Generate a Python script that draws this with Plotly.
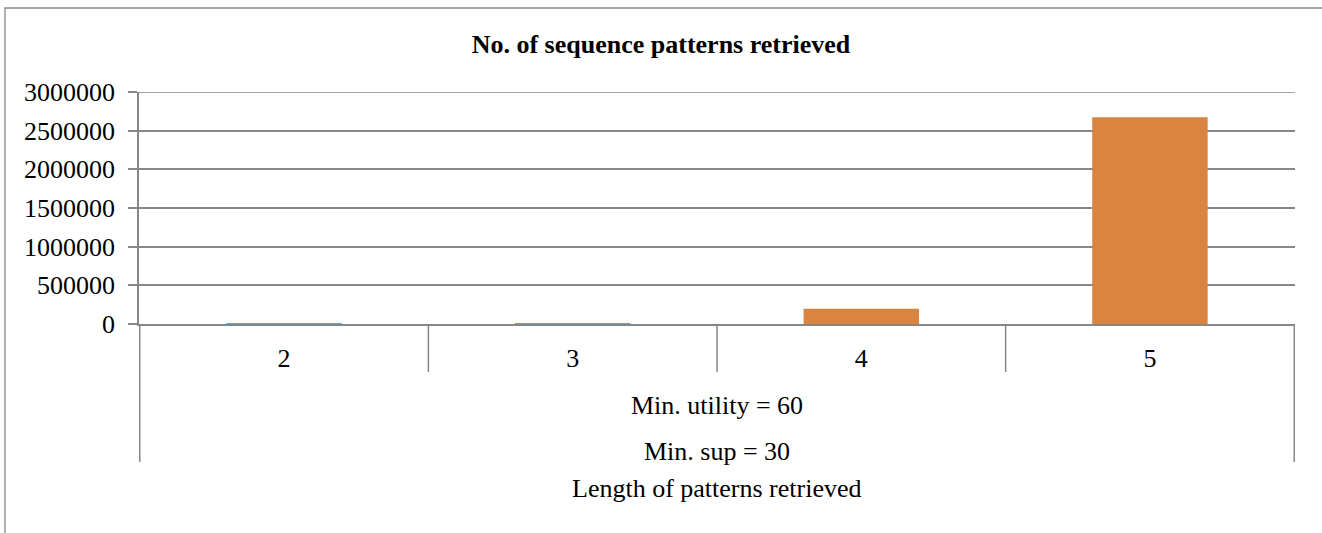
import plotly.graph_objects as go

categories = ["2", "3", "4", "5"]
patterns = [100, 600, 198000, 2673000]
group_level1 = "Min. utility = 60"
group_level2 = "Min. sup = 30"
x_title = "Length of patterns retrieved"
chart_title = "No. of sequence patterns retrieved"
y_ticks = [0, 500000, 1000000, 1500000, 2000000, 2500000, 3000000]

FONT = "Liberation Serif, Times New Roman, serif"
GRAY = "#878787"
FS = 26
W, H = 1322, 533
L, R, T, B = 139, 27, 92, 209
PH = H - T - B
PW = W - L - R

fig = go.Figure(go.Bar(
    x=categories, y=patterns,
    marker=dict(color="#DB8440", line=dict(width=0)),
    hoverinfo="x+y",
))

shapes = []
# category dividers (first level)
for i in range(len(categories) + 1):
    xb = i - 0.5
    depth = 48 if 0 < i < len(categories) else 138
    shapes.append(dict(type="line", xref="x", yref="paper",
                       x0=xb, x1=xb, y0=0, y1=-depth / PH,
                       line=dict(color=GRAY, width=1.5)))
# top gridline (plotly hides a gridline sitting on the plot edge)
shapes.append(dict(type="line", xref="paper", yref="y",
                   x0=0, x1=1, y0=y_ticks[-1], y1=y_ticks[-1],
                   line=dict(color=GRAY, width=1.5), layer="below"))
# outer chart border (left and top, extends past the window)
shapes.append(dict(type="rect", xref="paper", yref="paper",
                   x0=(5 - L) / PW, x1=(W + 20 - L) / PW,
                   y0=(H - B - 8) / PH, y1=(H - B - (H + 20)) / PH,
                   line=dict(color=GRAY, width=1.3), fillcolor="rgba(0,0,0,0)",
                   layer="below"))

annotations = [
    dict(text=group_level1, xref="paper", yref="paper", x=0.5, y=0,
         yshift=-81, yanchor="middle", showarrow=False,
         font=dict(family=FONT, size=FS, color="black")),
    dict(text=group_level2, xref="paper", yref="paper", x=0.5, y=0,
         yshift=-127, yanchor="middle", showarrow=False,
         font=dict(family=FONT, size=FS, color="black")),
    dict(text=x_title, xref="paper", yref="paper", x=0.5, y=0,
         yshift=-164, yanchor="middle", showarrow=False,
         font=dict(family=FONT, size=FS, color="black")),
]

fig.update_layout(
    width=W, height=H,
    margin=dict(l=L, r=R, t=T, b=B, autoexpand=False),
    paper_bgcolor="white", plot_bgcolor="white",
    bargap=0.6,
    showlegend=False,
    title=dict(text="<b>" + chart_title + "</b>", x=0.5, xref="container",
               y=1 - 44 / H, yref="container", yanchor="middle",
               font=dict(family=FONT, size=FS, color="black")),
    font=dict(family=FONT, size=FS, color="black"),
    shapes=shapes,
    annotations=annotations,
    xaxis=dict(type="category", categoryorder="array", categoryarray=categories,
               showgrid=False, ticks="", showline=True, linecolor=GRAY,
               linewidth=1.5, tickfont=dict(family=FONT, size=FS, color="black"),
               ticklabelstandoff=10, automargin=False, fixedrange=True),
    yaxis=dict(range=[0, 3000000], tickvals=y_ticks,
               ticktext=[str(v) for v in y_ticks],
               showgrid=True, gridcolor=GRAY, gridwidth=1.5,
               showline=True, linecolor=GRAY, linewidth=1.5,
               ticks="outside", ticklen=9, tickcolor=GRAY, tickwidth=1.5,
               zeroline=False,
               tickfont=dict(family=FONT, size=FS, color="black"),
               ticklabelstandoff=8, automargin=False, fixedrange=True),
)

fig.write_html("out.html", config={"displayModeBar": False},
               post_script="document.body.style.margin='0';document.body.style.overflow='hidden';")
